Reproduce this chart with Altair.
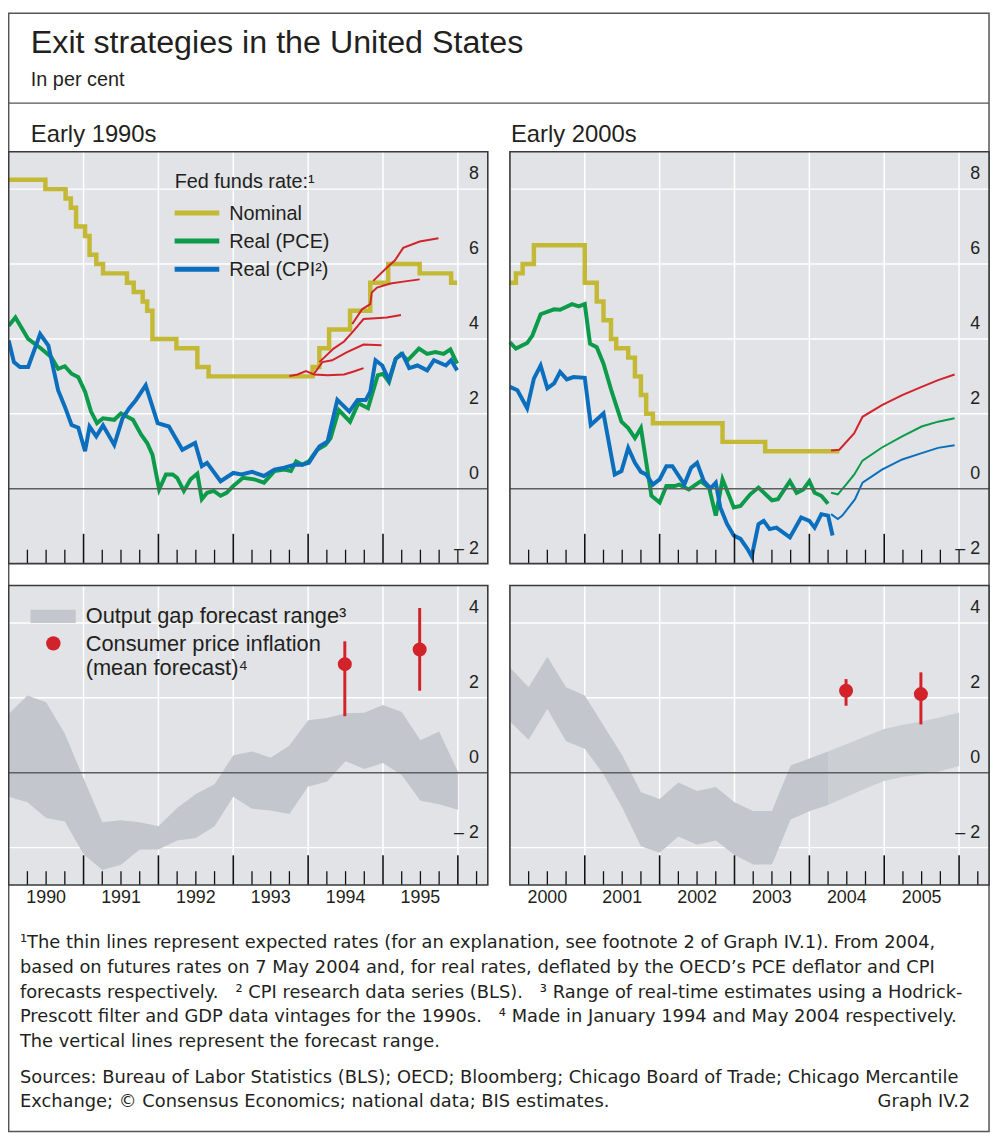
import altair as alt
import pandas as pd

# ======================= DATA =======================
# ---- Early 1990s: Fed funds rate, per cent ----
NOM90_T = [1990.0, 1990.49, 1990.76, 1990.83, 1990.9, 1991.02, 1991.08, 1991.17, 1991.26,
           1991.58, 1991.67, 1991.79, 1991.85, 1991.92, 1992.24, 1992.52, 1992.67, 1994.06,
           1994.15, 1994.28, 1994.56, 1994.83, 1995.07, 1995.49, 1995.91, 1995.99]
NOM90_V = [8.25, 8.0, 7.75, 7.5, 7.0, 6.75, 6.25, 6.0, 5.75,
           5.5, 5.25, 5.0, 4.75, 4.0, 3.75, 3.25, 3.0, 3.25,
           3.75, 4.25, 4.75, 5.5, 6.0, 5.75, 5.5, 5.5]

PCE90_T = [1990.0, 1990.09, 1990.26, 1990.44, 1990.57, 1990.66, 1990.75, 1990.84, 1990.93, 1991.02,
           1991.10, 1991.18, 1991.26, 1991.41, 1991.50, 1991.66, 1991.77, 1991.85, 1991.92, 1992.01,
           1992.10, 1992.19, 1992.25, 1992.34, 1992.43, 1992.52, 1992.58, 1992.65, 1992.74, 1992.83,
           1992.91, 1993.0, 1993.13, 1993.28, 1993.41, 1993.55, 1993.68, 1993.77, 1993.84, 1993.92,
           1994.01, 1994.12, 1994.23, 1994.30, 1994.41, 1994.56, 1994.67, 1994.80, 1994.93, 1995.0,
           1995.08, 1995.17, 1995.24, 1995.33, 1995.48, 1995.59, 1995.70, 1995.81, 1995.90, 1995.99]
PCE90_V = [4.35, 4.57, 4.0, 3.73, 3.51, 3.2, 3.27, 3.07, 2.98, 2.59,
           2.06, 1.75, 1.88, 1.84, 2.01, 1.84, 1.44, 1.22, 0.91, -0.02,
           0.38, 0.38, 0.29, -0.06, 0.25, 0.4, -0.28, -0.11, -0.06, -0.19,
           -0.11, 0.07, 0.29, 0.25, 0.16, 0.47, 0.51, 0.47, 0.73, 0.64,
           0.73, 1.04, 1.17, 1.35, 2.10, 1.79, 2.28, 2.15, 3.03, 3.07,
           2.85, 3.47, 3.6, 3.43, 3.74, 3.6, 3.65, 3.6, 3.72, 3.34]

CPI90_T = [1990.0, 1990.07, 1990.15, 1990.26, 1990.42, 1990.53, 1990.66, 1990.75, 1990.84, 1990.93,
           1991.02, 1991.08, 1991.17, 1991.26, 1991.41, 1991.52, 1991.61, 1991.70, 1991.83, 1991.99,
           1992.14, 1992.32, 1992.49, 1992.58, 1992.65, 1992.83, 1993.0, 1993.11, 1993.25, 1993.41,
           1993.55, 1993.68, 1993.82, 1993.92, 1994.01, 1994.15, 1994.26, 1994.39, 1994.55, 1994.66,
           1994.77, 1994.83, 1994.90, 1994.99, 1995.08, 1995.17, 1995.26, 1995.35, 1995.46, 1995.59,
           1995.68, 1995.84, 1995.91, 1995.99]
CPI90_V = [3.96, 3.38, 3.25, 3.25, 4.13, 3.82, 2.63, 2.19, 1.70, 1.63,
           1.0, 1.66, 1.4, 1.69, 1.17, 1.88, 2.15, 2.37, 2.76, 1.75,
           1.66, 1.04, 1.22, 0.6, 0.69, 0.2, 0.42, 0.38, 0.45, 0.34,
           0.51, 0.56, 0.64, 0.64, 0.69, 1.13, 1.26, 2.37, 2.06, 2.37,
           2.37, 2.59, 3.43, 3.29, 2.90, 3.47, 3.60, 3.22, 3.29, 3.16,
           3.43, 3.29, 3.43, 3.16]

# thin lines: expected Fed funds paths
EXP90_A_T = [1993.75, 1993.86, 1993.97, 1994.08, 1994.26, 1994.48, 1994.61, 1994.74]
EXP90_A_V = [3.01, 3.05, 3.14, 3.05, 3.03, 3.05, 3.13, 3.22]
EXP90_B_T = [1994.08, 1994.19, 1994.32, 1994.52, 1994.74, 1994.98]
EXP90_B_V = [3.07, 3.38, 3.43, 3.65, 3.85, 3.83]
EXP90_C_T = [1994.15, 1994.34, 1994.48, 1994.61, 1994.74, 1994.90, 1995.05, 1995.24]
EXP90_C_V = [3.38, 3.74, 3.93, 4.22, 4.53, 4.55, 4.57, 4.64]
EXP90_D_T = [1994.59, 1994.72, 1994.83, 1994.85, 1994.92, 1995.10, 1995.27, 1995.49]
EXP90_D_V = [4.40, 4.79, 4.93, 5.24, 5.37, 5.48, 5.53, 5.59]
EXP90_E_T = [1994.87, 1995.05, 1995.16, 1995.27, 1995.49, 1995.74]
EXP90_E_V = [5.55, 5.90, 6.10, 6.43, 6.60, 6.69]

# ---- Early 2000s ----
NOM00_T = [2000.0, 2000.08, 2000.17, 2000.32, 2001.0, 2001.16, 2001.25, 2001.35, 2001.42,
           2001.58, 2001.67, 2001.75, 2001.82, 2001.91, 2002.84, 2003.41, 2004.40]
NOM00_V = [5.5, 5.75, 6.0, 6.5, 5.5, 5.0, 4.5, 4.0, 3.75,
           3.5, 3.0, 2.5, 2.0, 1.75, 1.25, 1.0, 1.0]

PCE00_T = [2000.0, 2000.08, 2000.23, 2000.30, 2000.41, 2000.59, 2000.67, 2000.83, 2000.92, 2001.0,
           2001.07, 2001.16, 2001.25, 2001.36, 2001.49, 2001.58, 2001.67, 2001.75, 2001.89, 2002.0,
           2002.09, 2002.20, 2002.26, 2002.39, 2002.55, 2002.66, 2002.75, 2002.84, 2002.99, 2003.08,
           2003.21, 2003.32, 2003.50, 2003.58, 2003.74, 2003.83, 2003.92, 2004.0, 2004.07, 2004.16,
           2004.25]
PCE00_V = [3.91, 3.74, 3.89, 4.09, 4.66, 4.79, 4.78, 4.93, 4.87, 4.93,
           3.87, 3.78, 3.34, 2.59, 1.79, 1.62, 1.35, 1.62, -0.19, -0.37,
           0.07, 0.07, 0.11, -0.02, 0.2, 0.03, -0.72, 0.25, -0.5, -0.46,
           -0.15, 0.03, -0.31, -0.28, 0.2, -0.11, -0.02, 0.2, -0.11, -0.19,
           -0.4]

CPI00_T = [2000.0, 2000.10, 2000.23, 2000.32, 2000.41, 2000.50, 2000.59, 2000.67, 2000.76, 2000.85,
           2001.0, 2001.08, 2001.25, 2001.40, 2001.49, 2001.58, 2001.67, 2001.75, 2001.82, 2001.91,
           2002.0, 2002.09, 2002.17, 2002.33, 2002.42, 2002.50, 2002.59, 2002.68, 2002.75, 2002.81,
           2002.90, 2002.99, 2003.08, 2003.17, 2003.23, 2003.32, 2003.39, 2003.47, 2003.56, 2003.74,
           2003.89, 2004.0, 2004.07, 2004.16, 2004.25, 2004.31]
CPI00_V = [2.72, 2.63, 2.15, 2.94, 3.29, 2.68, 2.81, 3.12, 2.92, 2.98,
           2.96, 1.70, 2.01, 0.38, 0.47, 1.09, 0.69, 0.45, 0.38, 0.11,
           0.25, 0.6, 0.6, 0.11, 0.56, 0.69, 0.2, 0.01, 0.16, -0.5,
           -0.94, -1.25, -1.34, -1.6, -1.81, -0.95, -0.86, -1.08, -1.04, -1.3,
           -0.77, -0.86, -1.04, -0.68, -0.72, -1.25]

# thin lines from May 2004 (futures based)
EXP00_NOM_T = [2004.29, 2004.40, 2004.60, 2004.71, 2004.97, 2005.24, 2005.50, 2005.72, 2005.94]
EXP00_NOM_V = [1.02, 1.04, 1.48, 1.92, 2.23, 2.50, 2.72, 2.90, 3.05]
EXP00_PCE_T = [2004.29, 2004.38, 2004.49, 2004.60, 2004.71, 2004.97, 2005.24, 2005.50, 2005.72, 2005.94]
EXP00_PCE_V = [-0.11, -0.15, 0.11, 0.38, 0.75, 1.10, 1.40, 1.66, 1.79, 1.88]
EXP00_CPI_T = [2004.29, 2004.38, 2004.44, 2004.61, 2004.71, 2004.97, 2005.24, 2005.50, 2005.72, 2005.94]
EXP00_CPI_V = [-0.68, -0.81, -0.72, -0.28, 0.16, 0.51, 0.78, 0.95, 1.09, 1.16]

# ---- Output gap forecast range (quarterly) ----
GAP90_T = [1990.0, 1990.25, 1990.5, 1990.75, 1991.0, 1991.25, 1991.5, 1991.75, 1992.0, 1992.25,
           1992.5, 1992.75, 1993.0, 1993.25, 1993.5, 1993.75, 1994.0, 1994.25, 1994.5, 1994.75,
           1995.0, 1995.25, 1995.5, 1995.75, 1996.0]
GAP90_HI = [1.57, 2.06, 1.88, 1.04, -0.15, -1.32, -1.27, -1.32, -1.43, -0.94,
            -0.57, -0.31, 0.47, 0.57, 0.40, 0.73, 1.40, 1.46, 1.59, 1.60,
            1.81, 1.62, 0.87, 1.10, 0.03]
GAP90_LO = [-0.64, -0.79, -1.21, -1.30, -2.18, -2.60, -2.46, -2.05, -2.05, -1.81,
            -1.74, -1.43, -0.64, -0.96, -1.01, -1.10, -0.37, -0.24, 0.31, 0.10,
            0.26, -0.06, -0.75, -0.84, -0.99]

GAP00_T = [2000.0, 2000.25, 2000.5, 2000.75, 2001.0, 2001.25, 2001.5, 2001.75, 2002.0, 2002.25,
           2002.5, 2002.75, 2003.0, 2003.25, 2003.5, 2003.75, 2004.0, 2004.25, 2004.5, 2004.75,
           2005.0, 2005.25, 2005.5, 2005.75, 2006.0]
GAP00_HI = [2.81, 2.28, 3.10, 2.28, 2.06, 1.26, 0.47, -0.52, -0.70, -0.26,
            -0.49, -0.38, -0.79, -1.02, -1.02, 0.19, 0.38, 0.57, 0.77, 0.97,
            1.17, 1.28, 1.37, 1.48, 1.60]
GAP00_LO = [1.37, 0.88, 1.70, 0.84, 0.64, -0.04, -0.93, -1.96, -2.14, -1.70,
            -1.92, -1.81, -2.20, -2.45, -2.45, -1.25, -1.03, -0.86, -0.64, -0.42,
            -0.22, -0.11, -0.04, 0.04, 0.18]
GAP00_FORECAST_FROM = 2004.25

# ---- Consumer price inflation: mean forecast and range ----
INF90_T = [1994.49, 1995.49]
INF90_MEAN = [2.90, 3.29]
INF90_LO = [1.51, 2.19]
INF90_HI = [3.51, 4.40]
INF00_T = [2004.49, 2005.49]
INF00_MEAN = [2.19, 2.10]
INF00_LO = [1.79, 1.29]
INF00_HI = [2.50, 2.68]

# ---- axis labels ----
YEARS90 = [1990, 1991, 1992, 1993, 1994, 1995]
YEARS00 = [2000, 2001, 2002, 2003, 2004, 2005]
YTICKS_TOP = [8, 6, 4, 2, 0, -2]
YTICKS_BOT = [4, 2, 0, -2]

# ======================= STYLE / LAYOUT =======================
FONT = "Liberation Sans"
FOOT_FONT = "DejaVu Sans"
INK = "#231f20"
PANEL_BG = "#e1e3e6"
GRID = "#ffffff"
ZERO = "#5e5e5e"
FRAME = "#3a3a3a"
YELLOW = "#c4b935"
GREEN = "#0b9b4a"
BLUE = "#0b6fbe"
RED = "#d2232a"
BAND = "#c3c6cc"
BAND_FC = "#cbced3"

OFF = 8.0          # page margin
W, H = 992, 1132   # canvas size
PPU = 37.75        # pixels per unit on the y axes
GAP = "\u00a0\u00a0\u00a0"


def cv(p):
    return p - OFF


PANELS = {
    "tl": dict(xd=[1990.0, 1996.4], xr=[cv(8.7), cv(491.7)], yd=[-2.0, 9.0], yr=[cv(563.5), cv(148.25)]),
    "tr": dict(xd=[2000.0, 2006.4], xr=[cv(514.0), cv(997.0)], yd=[-2.0, 9.0], yr=[cv(563.5), cv(148.25)]),
    "bl": dict(xd=[1990.0, 1996.4], xr=[cv(8.7), cv(491.7)], yd=[-3.0, 5.0], yr=[cv(887.6), cv(585.6)]),
    "br": dict(xd=[2000.0, 2006.4], xr=[cv(514.0), cv(997.0)], yd=[-3.0, 5.0], yr=[cv(887.6), cv(585.6)]),
}

ONE = pd.DataFrame({"k": [0]})


def X(field, p):
    return alt.X(field, type="quantitative",
                 scale=alt.Scale(domain=p["xd"], range=p["xr"], nice=False, zero=False), axis=None)


def Y(field, p):
    return alt.Y(field, type="quantitative",
                 scale=alt.Scale(domain=p["yd"], range=p["yr"], nice=False, zero=False), axis=None)


def text(s, x, y, size, align="left", baseline="alphabetic", color=INK, font=FONT):
    return alt.Chart(ONE).mark_text(text=s, fontSize=size, align=align, baseline=baseline,
                                    font=font, color=color).encode(x=alt.value(x), y=alt.value(y))


def hline(x1, x2, y, color, width):
    return alt.Chart(ONE).mark_rule(color=color, strokeWidth=width).encode(
        x=alt.value(x1), x2=alt.value(x2), y=alt.value(y))


def series(p, t, v, color, width, interp="linear"):
    df = pd.DataFrame({"t": t, "v": v})
    return alt.Chart(df).mark_line(color=color, strokeWidth=width, interpolate=interp,
                                   strokeJoin="miter", strokeCap="butt").encode(
        x=X("t", p), y=Y("v", p))


def panel_back(p, grid_y):
    x0, x1 = p["xd"]
    y0, y1 = p["yd"]
    bgdf = pd.DataFrame({"x0": [x0], "x1": [x1], "y0": [y0], "y1": [y1]})
    bg = alt.Chart(bgdf).mark_rect(color=PANEL_BG).encode(
        x=X("x0", p), x2="x1", y=Y("y0", p), y2="y1")
    yrs = [x0 + i for i in range(1, 7)]
    vdf = pd.DataFrame({"t": yrs, "a": [y0] * len(yrs), "b": [y1] * len(yrs)})
    vg = alt.Chart(vdf).mark_rule(color=GRID, strokeWidth=1.5).encode(
        x=X("t", p), y=Y("a", p), y2="b")
    hdf = pd.DataFrame({"v": grid_y, "a": [x0] * len(grid_y), "b": [x1] * len(grid_y)})
    hg = alt.Chart(hdf).mark_rule(color=GRID, strokeWidth=1.5).encode(
        y=Y("v", p), x=X("a", p), x2="b")
    return [bg, vg, hg]


def panel_front(p, ticklabels, bottom):
    x0, x1 = p["xd"]
    y0, y1 = p["yd"]
    out = []
    zdf = pd.DataFrame({"v": [0.0], "a": [x0], "b": [x1]})
    out.append(alt.Chart(zdf).mark_rule(color=ZERO, strokeWidth=1.5).encode(
        y=Y("v", p), x=X("a", p), x2="b"))
    # tick marks along the bottom edge (years long, quarters short)
    major = [x0 + i for i in range(1, 7 if bottom else 6)]
    last = x0 + 6.25 if bottom else x0 + 6.0
    minor = [x0 + q * 0.25 for q in range(1, int((last - x0) / 0.25) + 1) if (q % 4) != 0 or (x0 + q * 0.25) not in major]
    mdf = pd.DataFrame({"t": major, "a": [y0] * len(major), "b": [y0 + 30 / PPU] * len(major)})
    ndf = pd.DataFrame({"t": minor, "a": [y0] * len(minor), "b": [y0 + 14 / PPU] * len(minor)})
    out.append(alt.Chart(mdf).mark_rule(color="#111111", strokeWidth=1.6).encode(x=X("t", p), y=Y("a", p), y2="b"))
    out.append(alt.Chart(ndf).mark_rule(color="#111111", strokeWidth=1.3).encode(x=X("t", p), y=Y("a", p), y2="b"))
    # y labels (inside, right, above their grid line)
    ldf = pd.DataFrame({"v": ticklabels,
                        "lab": [("\u2013 " + str(-v)) if v < 0 else str(v) for v in ticklabels]})
    out.append(alt.Chart(ldf).mark_text(font=FONT, fontSize=18, color=INK, align="right",
                                        baseline="middle", dy=-15).encode(
        x=alt.value(p["xr"][1] - 9), y=Y("v", p), text="lab:N"))
    # frame
    bgdf = pd.DataFrame({"x0": [x0], "x1": [x1], "y0": [y0], "y1": [y1]})
    out.append(alt.Chart(bgdf).mark_rect(fillOpacity=0, stroke=FRAME, strokeWidth=1.6).encode(
        x=X("x0", p), x2="x1", y=Y("y0", p), y2="y1"))
    return out


def year_labels(p, years):
    df = pd.DataFrame({"t": [y + 0.5 for y in years], "lab": [str(y) for y in years]})
    return alt.Chart(df).mark_text(font=FONT, fontSize=18, color=INK, align="center",
                                   baseline="middle").encode(x=X("t", p), y=alt.value(cv(901)), text="lab:N")


def band(p, t, lo, hi, color):
    df = pd.DataFrame({"t": t, "lo": lo, "hi": hi})
    return alt.Chart(df).mark_area(color=color, opacity=1).encode(
        x=X("t", p), y=Y("lo", p), y2="hi")


def inflation(p, t, mean, lo, hi):
    df = pd.DataFrame({"t": t, "m": mean, "lo": lo, "hi": hi})
    r = alt.Chart(df).mark_rule(color=RED, strokeWidth=3).encode(x=X("t", p), y=Y("lo", p), y2="hi")
    c = alt.Chart(df).mark_circle(color=RED, size=200, opacity=1).encode(x=X("t", p), y=Y("m", p))
    return [r, c]


layers = []

# ---------------- frame & header ----------------
layers.append(alt.Chart(ONE).mark_rect(fillOpacity=0, stroke="#555555", strokeWidth=1.5).encode(
    x=alt.value(cv(8.7)), x2=alt.value(cv(997.0)), y=alt.value(0.8), y2=alt.value(cv(1136))))
layers.append(hline(cv(8.7), cv(997.0), cv(99.3), "#555555", 1.5))
layers.append(text("Exit strategies in the United States", cv(31), cv(49), 32.5))
layers.append(text("In per cent", cv(31), cv(82), 20))
layers.append(text("Early 1990s", cv(31), cv(138), 24))
layers.append(text("Early 2000s", cv(515), cv(138), 24))

# ---------------- top left ----------------
p = PANELS["tl"]
layers += panel_back(p, [2, 4, 6, 8])
layers.append(series(p, NOM90_T, NOM90_V, YELLOW, 4.5, "step-after"))
for tt, vv in [(EXP90_A_T, EXP90_A_V), (EXP90_B_T, EXP90_B_V), (EXP90_C_T, EXP90_C_V),
               (EXP90_D_T, EXP90_D_V), (EXP90_E_T, EXP90_E_V)]:
    layers.append(series(p, tt, vv, RED, 2))
layers.append(series(p, PCE90_T, PCE90_V, GREEN, 4))
layers.append(series(p, CPI90_T, CPI90_V, BLUE, 4))
layers += panel_front(p, YTICKS_TOP, False)

# ---------------- top right ----------------
p = PANELS["tr"]
layers += panel_back(p, [2, 4, 6, 8])
layers.append(series(p, NOM00_T, NOM00_V, YELLOW, 4.5, "step-after"))
layers.append(series(p, EXP00_NOM_T, EXP00_NOM_V, RED, 2))
layers.append(series(p, EXP00_PCE_T, EXP00_PCE_V, GREEN, 2))
layers.append(series(p, EXP00_CPI_T, EXP00_CPI_V, BLUE, 2))
layers.append(series(p, PCE00_T, PCE00_V, GREEN, 4))
layers.append(series(p, CPI00_T, CPI00_V, BLUE, 4))
layers += panel_front(p, YTICKS_TOP, False)

# ---------------- bottom left ----------------
p = PANELS["bl"]
layers += panel_back(p, [-2, 2, 4])
layers.append(band(p, GAP90_T, GAP90_LO, GAP90_HI, BAND))
layers += panel_front(p, YTICKS_BOT, True)
layers += inflation(p, INF90_T, INF90_MEAN, INF90_LO, INF90_HI)
layers.append(year_labels(p, YEARS90))

# ---------------- bottom right ----------------
p = PANELS["br"]
layers += panel_back(p, [-2, 2, 4])
hist = [i for i, t in enumerate(GAP00_T) if t <= GAP00_FORECAST_FROM]
fc = [i for i, t in enumerate(GAP00_T) if t >= GAP00_FORECAST_FROM]
layers.append(band(p, [GAP00_T[i] for i in hist], [GAP00_LO[i] for i in hist], [GAP00_HI[i] for i in hist], BAND))
layers.append(band(p, [GAP00_T[i] for i in fc], [GAP00_LO[i] for i in fc], [GAP00_HI[i] for i in fc], BAND_FC))
layers += panel_front(p, YTICKS_BOT, True)
layers += inflation(p, INF00_T, INF00_MEAN, INF00_LO, INF00_HI)
layers.append(year_labels(p, YEARS00))

# ---------------- legends ----------------
layers.append(text("Fed funds rate:\u00b9", cv(176), cv(185), 20))
for yy, col, lab in [(210.0, YELLOW, "Nominal"), (238.3, GREEN, "Real (PCE)"), (266.7, BLUE, "Real (CPI\u00b2)")]:
    layers.append(hline(cv(176), cv(221), cv(yy), col, 5))
    layers.append(text(lab, cv(231), cv(yy + 7), 20))

layers.append(alt.Chart(ONE).mark_rect(color=BAND).encode(
    x=alt.value(cv(30.7)), x2=alt.value(cv(76.3)), y=alt.value(cv(610)), y2=alt.value(cv(623.3))))
layers.append(text("Output gap forecast range\u00b3", cv(86.3), cv(623.5), 22))
layers.append(alt.Chart(ONE).mark_circle(color=RED, size=210, opacity=1).encode(
    x=alt.value(cv(53.7)), y=alt.value(cv(644))))
layers.append(text("Consumer price inflation", cv(86.3), cv(652), 22))
layers.append(text("(mean forecast)\u2074", cv(86.3), cv(676), 22))

# ---------------- footnotes ----------------
FOOT = [
    "\u00b9The thin lines represent expected rates (for an explanation, see footnote 2 of Graph IV.1). From 2004,",
    "based on futures rates on 7 May 2004 and, for real rates, deflated by the OECD\u2019s PCE deflator and CPI",
    "forecasts respectively." + GAP + "\u00b2 CPI research data series (BLS)." + GAP
    + "\u00b3 Range of real-time estimates using a Hodrick-",
    "Prescott filter and GDP data vintages for the 1990s." + GAP + "\u2074 Made in January 1994 and May 2004 respectively.",
    "The vertical lines represent the forecast range.",
]
for i, line in enumerate(FOOT):
    layers.append(text(line, cv(20), cv(951 + 25 * i), 18, font=FOOT_FONT))
layers.append(text("Sources: Bureau of Labor Statistics (BLS); OECD; Bloomberg; Chicago Board of Trade; Chicago Mercantile",
                   cv(20), cv(1087), 18, font=FOOT_FONT))
layers.append(text("Exchange; \u00a9 Consensus Economics; national data; BIS estimates.", cv(20), cv(1111), 18,
                   font=FOOT_FONT))
layers.append(text("Graph IV.2", cv(978), cv(1111), 18, align="right", font=FOOT_FONT))

chart = alt.layer(*layers).resolve_scale(x="independent", y="independent").properties(
    width=W, height=H, autosize=alt.AutoSizeParams(type="none"), padding=0, background="white"
).configure_view(stroke=None)

chart.save("out.html", embed_options={"renderer": "svg", "actions": False})
